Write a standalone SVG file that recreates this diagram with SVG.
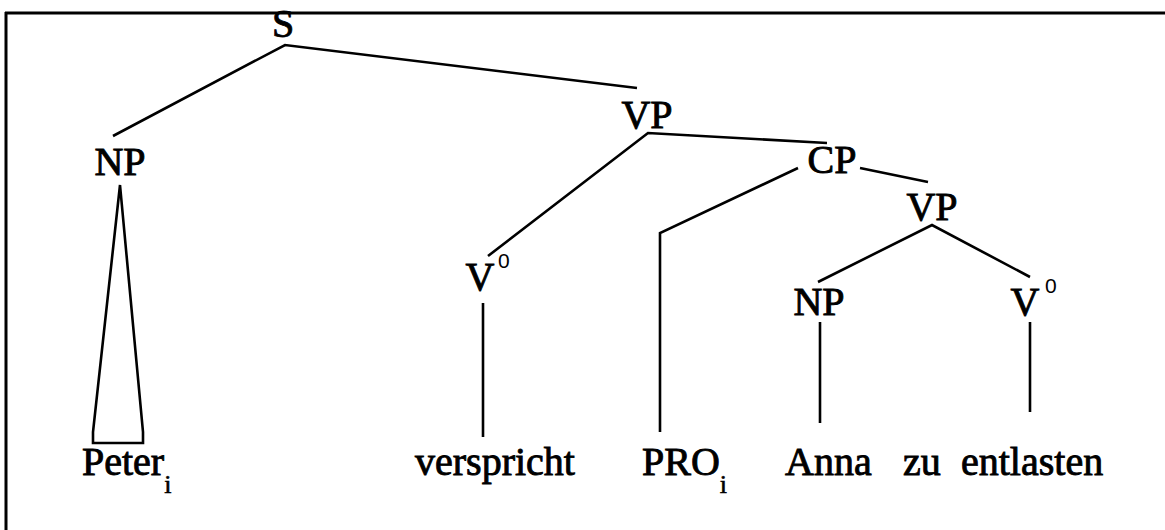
<svg xmlns="http://www.w3.org/2000/svg" width="1165" height="530" viewBox="0 0 1165 530">
  <style>
    text { font-family: 'Liberation Serif', 'DejaVu Serif', 'Times New Roman', serif; }
    .lbl { font-size: 40px; fill: #000; stroke: #000; stroke-width: 0.9; }
    .sup { font-family: 'Liberation Sans', 'DejaVu Sans', Arial, sans-serif; font-size: 21px; fill: #000; stroke: none; }
    .sub { font-size: 26px; stroke-width: 0.6; }
    .edge { fill: none; stroke: #000; stroke-width: 2.6; stroke-linejoin: miter; stroke-linecap: butt; }
    .frame { fill: none; stroke: #000; stroke-width: 3; }
  </style>

  <rect width="1165" height="530" fill="#fff"/>

  <!-- outer frame (top and left edges) -->
  <g id="frame">
    <line class="frame" x1="5" y1="13" x2="1165" y2="13"/>
    <line class="frame" x1="6" y1="12" x2="6" y2="530"/>
  </g>

  <!-- tree branches -->
  <g id="connectors">
    <polyline class="edge" points="113,136 285,45 637,88"/>
    <polygon class="edge" points="120,185 93,432 93,443 143,443 143,432"/>
    <polyline class="edge" points="488,256 648,133 827,143"/>
    <line class="edge" x1="483" y1="303" x2="483" y2="437"/>
    <polyline class="edge" points="798,168 660,233 660,432"/>
    <line class="edge" x1="860" y1="168" x2="928" y2="182"/>
    <polyline class="edge" points="818,282 932,225 1030,277"/>
    <line class="edge" x1="820" y1="322" x2="820" y2="423"/>
    <line class="edge" x1="1030" y1="322" x2="1030" y2="412"/>
  </g>

  <!-- category nodes -->
  <g id="node-s"><text class="lbl" x="283" y="37" text-anchor="middle">S</text></g>
  <g id="node-np1"><text class="lbl" x="120" y="175" text-anchor="middle">NP</text></g>
  <g id="node-vp1"><text class="lbl" x="647" y="128" text-anchor="middle">VP</text></g>
  <g id="node-v1">
    <text class="lbl" x="480" y="290" text-anchor="middle">V</text>
    <text class="sup" x="498" y="268">0</text>
  </g>
  <g id="node-cp"><text class="lbl" x="832" y="173" text-anchor="middle">CP</text></g>
  <g id="node-vp2"><text class="lbl" x="932" y="220" text-anchor="middle">VP</text></g>
  <g id="node-np2"><text class="lbl" x="819" y="315" text-anchor="middle">NP</text></g>
  <g id="node-v2">
    <text class="lbl" x="1025" y="315" text-anchor="middle">V</text>
    <text class="sup" x="1045" y="293">0</text>
  </g>

  <!-- terminal words -->
  <g id="word-peter"><text class="lbl" x="82" y="475">Peter<tspan class="sub" dy="18">i</tspan></text></g>
  <g id="word-verspricht"><text class="lbl" x="415" y="475">verspricht</text></g>
  <g id="word-pro"><text class="lbl" x="642" y="475">PRO<tspan class="sub" dy="18">i</tspan></text></g>
  <g id="word-anna"><text class="lbl" x="785" y="475">Anna</text></g>
  <g id="word-zu"><text class="lbl" x="903" y="475">zu</text></g>
  <g id="word-entlasten"><text class="lbl" x="961" y="475">entlasten</text></g>
</svg>
